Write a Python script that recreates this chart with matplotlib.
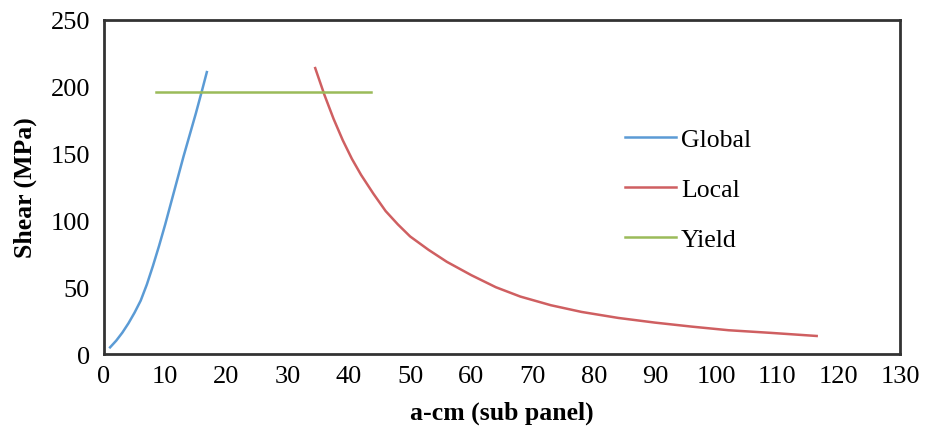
"""Shear vs a-cm chart: global, local and yield curves."""

import matplotlib.pyplot as plt

global_x = [1, 2, 3, 4, 5, 6, 7, 8, 9, 10, 11, 12, 13, 14, 15, 16, 16.8]
global_y = [5, 10, 16, 23, 31, 40, 52, 66, 81, 97, 114, 131, 148, 164, 180, 197, 211]

local_x = [34.5, 36, 37.5, 39, 40.5, 42, 44, 46, 48, 50, 53, 56, 60, 64, 68,
           73, 78, 84, 90, 96, 102, 109, 116.4]
local_y = [214, 194, 176, 160, 146, 134, 120, 107, 97, 88, 78, 69, 59, 50, 43,
           36.5, 31.5, 27, 23.5, 20.5, 17.8, 15.8, 13.5]

yield_x = [8.5, 43.6]
yield_y = [196, 196]

x_ticks = list(range(0, 131, 10))
y_ticks = list(range(0, 251, 50))

plt.rcParams["font.family"] = ["Liberation Serif", "DejaVu Serif"]

fig = plt.figure(figsize=(9.35, 4.31), dpi=100)
ax = fig.add_axes([0.1112, 0.1763, 0.8513, 0.775])

ax.plot(global_x, global_y, color="#5b9bd5", lw=1.8, label="Global")
ax.plot(local_x, local_y, color="#cf5f61", lw=1.8, label="Local")
ax.plot(yield_x, yield_y, color="#9bbb59", lw=1.8, label="Yield")

ax.set_xlim(0, 130)
ax.set_ylim(0, 250)
ax.set_xticks(x_ticks)
ax.set_yticks(y_ticks)
ax.tick_params(axis="both", length=0, labelsize=19)
ax.tick_params(axis="x", pad=8)
ax.tick_params(axis="y", pad=10)

for spine in ax.spines.values():
    spine.set_color("#333333")
    spine.set_linewidth(2)

ax.set_xlabel("a-cm (sub panel)", fontsize=18.5, fontweight="bold", labelpad=10)
ax.set_ylabel("Shear (MPa)", fontsize=18.5, fontweight="bold", labelpad=10)

ax.legend(loc="upper left", bbox_to_anchor=(0.625, 0.745), frameon=False,
          fontsize=18.5, handlelength=2.0, handletextpad=0.2, labelspacing=1.05)

fig.savefig("out.png", dpi=100)
